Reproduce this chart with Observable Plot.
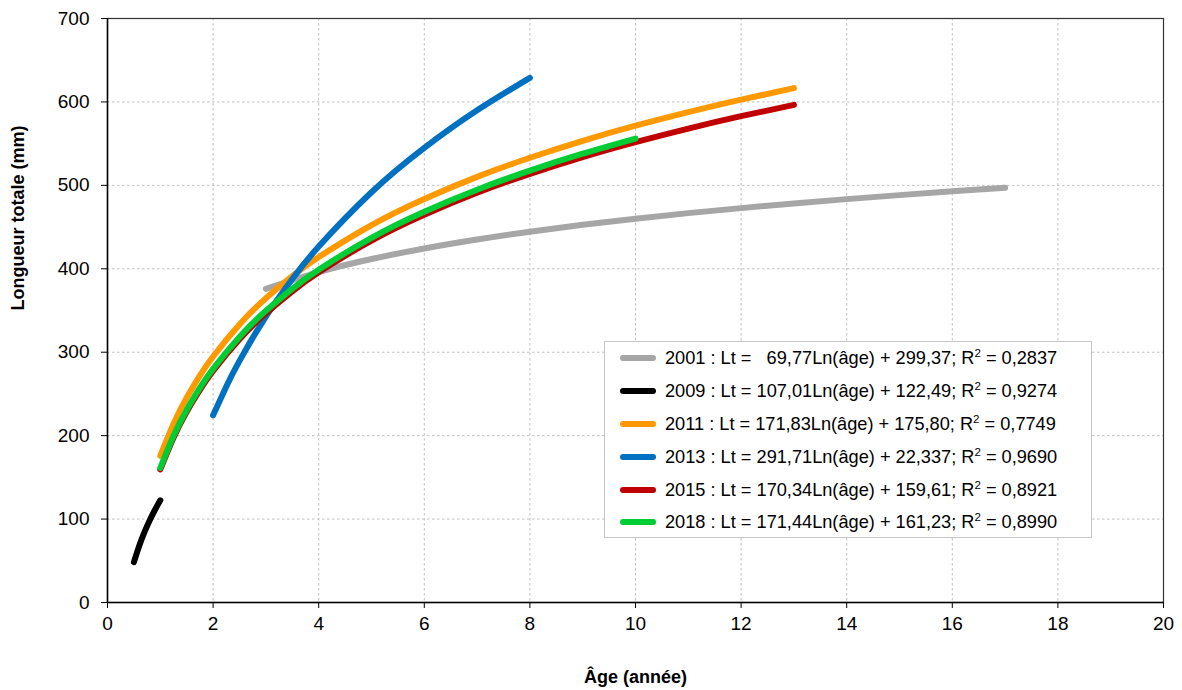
<!DOCTYPE html>
<html><head><meta charset="utf-8">
<script src="https://cdn.jsdelivr.net/npm/d3@7"></script>
<script src="https://cdn.jsdelivr.net/npm/@observablehq/plot@0.6"></script>
<style>
body{margin:0;background:#fff;font-family:"Liberation Sans",Arial,sans-serif;}
#wrap{position:relative;width:1182px;height:690px;}
#legend{position:absolute;left:604px;top:341px;width:488px;height:197px;border:1px solid #c8c8c8;background:#fff;box-sizing:border-box;}
.row{position:absolute;left:0;height:20px;display:flex;align-items:center;white-space:pre;font-size:18.2px;color:#000;}
.sw{width:36px;height:6px;border-radius:3px;margin-left:15px;margin-right:9px;}
sup{font-size:11.5px;vertical-align:7px;line-height:0;}
</style></head>
<body><div id="wrap"></div>
<script>
const years = ["2001","2009","2011","2013","2015","2018"];
const colors = ["#a6a6a6","#000000","#ff9900","#0070c0","#c00000","#00cc33"];
const legendLabels = [
  "2001 : Lt =   69,77Ln(âge) + 299,37; R",
  "2009 : Lt = 107,01Ln(âge) + 122,49; R",
  "2011 : Lt = 171,83Ln(âge) + 175,80; R",
  "2013 : Lt = 291,71Ln(âge) + 22,337; R",
  "2015 : Lt = 170,34Ln(âge) + 159,61; R",
  "2018 : Lt = 171,44Ln(âge) + 161,23; R"
];
const r2Labels = ["0,2837","0,9274","0,7749","0,9690","0,8921","0,8990"];

const age2001 = [3,4,5,6,7,8,9,10,11,12,13,14,15,16,17];
const lt2001  = [376.0,396.1,411.7,424.4,435.1,444.5,452.7,460.0,466.7,472.7,478.3,483.5,488.3,492.8,497.0];
const age2009 = [0.5,0.6,0.7,0.8,0.9,1];
const lt2009  = [48.3,67.8,84.3,98.6,111.2,122.5];
const age2011 = [1,1.25,1.5,1.75,2,2.5,3,3.5,4,5,6,7,8,9,10,11,12,13];
const lt2011  = [175.8,214.1,245.5,272.0,294.9,333.3,364.6,391.1,414.0,452.4,483.7,510.2,533.1,553.4,571.5,587.8,602.8,616.5];
const age2013 = [2,2.25,2.5,3,3.5,4,5,6,7,8];
const lt2013  = [224.5,258.9,289.6,342.8,387.8,426.7,491.8,545.0,590.0,628.9];
const age2015 = [1,1.25,1.5,1.75,2,2.5,3,3.5,4,5,6,7,8,9,10,11,12,13];
const lt2015  = [159.6,197.6,228.7,254.9,277.7,315.7,346.7,373.0,395.8,433.8,464.8,491.1,513.8,533.9,551.8,568.1,582.9,596.5];
const age2018 = [1,1.25,1.5,1.75,2,2.5,3,3.5,4,5,6,7,8,9,10];
const lt2018  = [161.2,199.5,230.8,257.2,280.1,318.3,349.6,376.0,398.9,437.1,468.4,494.8,517.7,537.9,556.0];

const xTicks = [0,2,4,6,8,10,12,14,16,18,20];
const yTicks = [0,100,200,300,400,500,600,700];

const series = [[age2001,lt2001],[age2009,lt2009],[age2011,lt2011],[age2013,lt2013],[age2015,lt2015],[age2018,lt2018]];
const data = [];
series.forEach(([a,l],i)=>a.forEach((x,j)=>data.push({year:years[i],age:x,lt:l[j]})));

const grid = {stroke:"#c0c0c0",strokeOpacity:1,strokeDasharray:"2.5,2.5",strokeWidth:1};
const chart = Plot.plot({
  width:1182,height:690,
  marginLeft:107,marginRight:19,marginTop:18,marginBottom:88,
  style:{fontFamily:"Liberation Sans, Arial, sans-serif",fontSize:"19px",color:"#000",background:"#fff"},
  x:{domain:[0,20],ticks:xTicks},
  y:{domain:[0,700],ticks:yTicks},
  color:{domain:years,range:colors},
  marks:[
    Plot.gridX(xTicks.filter(d=>d>0&&d<20),grid),
    Plot.gridY(yTicks.filter(d=>d>0&&d<700),grid),
    Plot.frame({stroke:"#333",strokeWidth:1.2}),
    Plot.axisX({ticks:xTicks,tickSize:6,tickPadding:8,label:null,fontSize:19}),
    Plot.axisY({ticks:yTicks,tickSize:6,tickPadding:12,label:null,fontSize:19}),
    Plot.ruleX([0],{stroke:"#000",strokeWidth:1.5}),
    Plot.ruleY([0],{stroke:"#000",strokeWidth:1.5}),
    Plot.line(data,{x:"age",y:"lt",z:"year",stroke:"year",strokeWidth:6,curve:"natural",strokeLinecap:"round",strokeLinejoin:"round"}),
    Plot.text(["Âge (année)"],{frameAnchor:"bottom",dy:80,fontWeight:"bold",fontSize:18}),
    Plot.text(["Longueur totale (mm)"],{frameAnchor:"left",dx:-89,rotate:-90,fontWeight:"bold",fontSize:18})
  ]
});
const wrap = document.getElementById("wrap");
wrap.appendChild(chart);
const leg = document.createElement("div");
leg.id="legend";
const tops=[6,39,72,105,138,170];
years.forEach((y,i)=>{
  const r=document.createElement("div");
  r.className="row";
  r.style.top=tops[i]+"px";
  r.innerHTML=`<div class="sw" style="background:${colors[i]}"></div><span>${legendLabels[i]}<sup>2</sup> = ${r2Labels[i]}</span>`;
  leg.appendChild(r);
});
wrap.appendChild(leg);
</script></body></html>
